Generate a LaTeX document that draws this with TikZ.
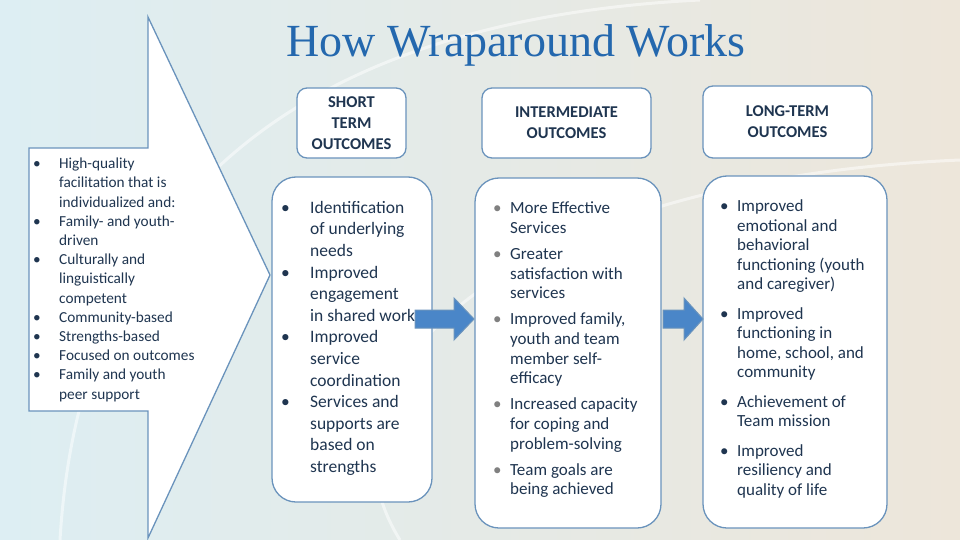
\documentclass[tikz,border=0pt]{standalone}
\usepackage{fontspec}
\setmainfont{Carlito}
\newfontfamily\titlefont{Liberation Serif}
\definecolor{edge}{HTML}{6A93BC}
\definecolor{txt}{HTML}{1F3550}
\definecolor{ttl}{HTML}{2468AE}
\definecolor{arr}{HTML}{4A86C8}
\definecolor{bgA}{HTML}{DDEEF3}
\definecolor{bgB}{HTML}{EDE6DA}
\tikzset{
  box/.style={draw=edge,line width=1.3pt,fill=white},
  hdr/.style={font=\bfseries\fontsize{16.5}{21}\selectfont,text=txt,align=center},
  body/.style={text=txt,anchor=north west,inner sep=0pt},
  bigarrow/.style={draw=edge,line width=1pt,fill=arr}
}
\begin{document}
\begin{tikzpicture}[x=1pt,y=-1pt]
\shade[left color=bgA,right color=bgB] (0,0) rectangle (960,540);
\useasboundingbox (0,0) rectangle (960,540);
\draw[white,line width=3pt,opacity=0.5] (60,540) .. controls (80,200) and (300,20) .. (700,0);
\draw[white,line width=3pt,opacity=0.5] (400,540) .. controls (300,380) and (500,180) .. (960,160);
\node[font=\titlefont\fontsize{46}{50}\selectfont,text=ttl] (title) at (516,45) {How Wraparound Works};
% callout
\draw[draw=edge,line width=1.3pt,fill=white] (148,17) -- (270,275) -- (148,538) -- (148,411) -- (29,411) -- (29,148) -- (148,148) -- cycle;
\node[body,font=\fontsize{15.3}{19.2}\selectfont] (inputs) at (33,155) {%
\renewcommand\arraystretch{1}%
\begin{tabular}{@{}p{26pt}@{}l@{}}
\textbullet & High-quality\\ & facilitation that is\\ & individualized and:\\
\textbullet & Family- and youth-\\ & driven\\
\textbullet & Culturally and\\ & linguistically\\ & competent\\
\textbullet & Community-based\\
\textbullet & Strengths-based\\
\textbullet & Focused on outcomes\\
\textbullet & Family and youth\\ & peer support
\end{tabular}};
% headers
\draw[box,rounded corners=10pt] (297,88) rectangle (406,158);
\node[hdr] (h1) at (351.5,123) {SHORT\\TERM\\OUTCOMES};
\draw[box,rounded corners=10pt] (482,88) rectangle (651,158);
\node[hdr] (h2) at (566.5,123) {INTERMEDIATE\\OUTCOMES};
\draw[box,rounded corners=10pt] (703,86) rectangle (872,158);
\node[hdr] (h3) at (787.5,122) {LONG-TERM\\OUTCOMES};
% bodies
\draw[box,rounded corners=24pt] (272,177) rectangle (432,502);
\draw[box,rounded corners=24pt] (475,178) rectangle (661,528);
\draw[box,rounded corners=24pt] (703,176) rectangle (887,528);
\node[body,font=\fontsize{17.5}{21.6}\selectfont] (b1) at (281,198) {%
\renewcommand\arraystretch{1}%
\begin{tabular}{@{}p{29pt}@{}l@{}}
\textbullet & Identification\\ & of underlying\\ & needs\\
\textbullet & Improved\\ & engagement\\ & in shared work\\
\textbullet & Improved\\ & service\\ & coordination\\
\textbullet & Services and\\ & supports are\\ & based on\\ & strengths
\end{tabular}};
\node[body,font=\fontsize{17}{19.6}\selectfont] (b2) at (493,200) {%
\renewcommand\arraystretch{1}%
\begin{tabular}{@{}p{17pt}@{}l@{}}
\textcolor{gray}{\textbullet} & More Effective\\ & Services\\[6.5pt]
\textcolor{gray}{\textbullet} & Greater\\ & satisfaction with\\ & services\\[6.5pt]
\textcolor{gray}{\textbullet} & Improved family,\\ & youth and team\\ & member self-\\ & efficacy\\[6.5pt]
\textcolor{gray}{\textbullet} & Increased capacity\\ & for coping and\\ & problem-solving\\[6.5pt]
\textcolor{gray}{\textbullet} & Team goals are\\ & being achieved
\end{tabular}};
\node[body,font=\fontsize{17}{19.5}\selectfont] (b3) at (720,198) {%
\renewcommand\arraystretch{1}%
\begin{tabular}{@{}p{17pt}@{}l@{}}
\textbullet & Improved\\ & emotional and\\ & behavioral\\ & functioning (youth\\ & and caregiver)\\[10pt]
\textbullet & Improved\\ & functioning in\\ & home, school, and\\ & community\\[10pt]
\textbullet & Achievement of\\ & Team mission\\[10pt]
\textbullet & Improved\\ & resiliency and\\ & quality of life
\end{tabular}};
% arrows
\draw[bigarrow] (415,310) -- (454,310) -- (454,298) -- (474,319) -- (454,340) -- (454,328) -- (415,328) -- cycle;
\draw[bigarrow] (663,310) -- (684,310) -- (684,298) -- (703,319) -- (684,340) -- (684,328) -- (663,328) -- cycle;
\end{tikzpicture}
\end{document}
